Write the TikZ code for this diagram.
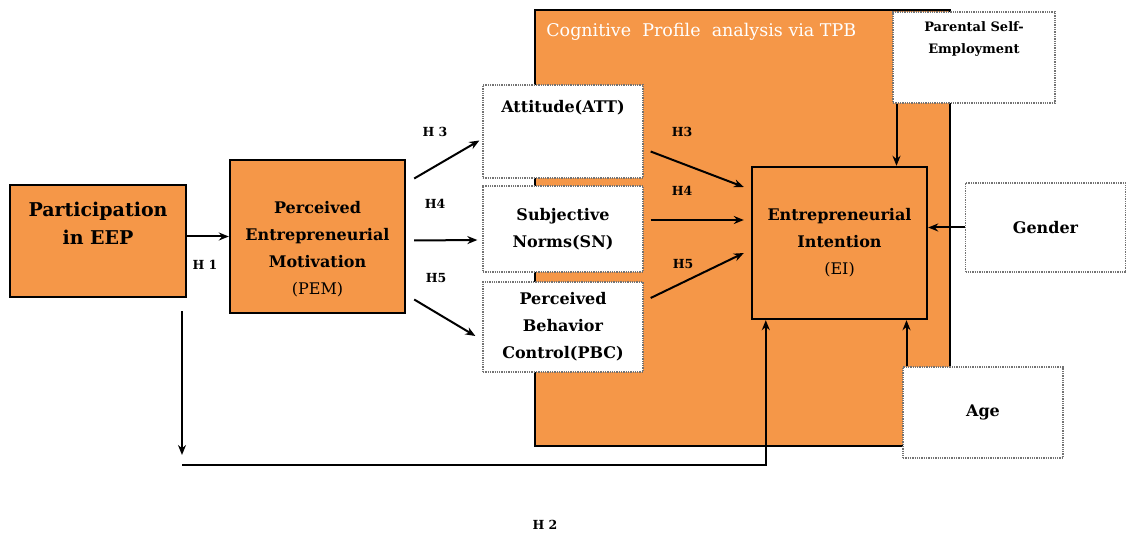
\documentclass[tikz,border=0pt]{standalone}
\usepackage{fontspec}
\setmainfont{DejaVu Serif}
\usetikzlibrary{arrows.meta}
\definecolor{tpborange}{RGB}{245,151,72}

\begin{document}
\begin{tikzpicture}[x=1pt,y=-1pt,
		solidbox/.style={draw=black,line width=2.4pt,fill=tpborange,align=center,inner sep=0pt},
		dotbox/.style={draw=black!55,densely dotted,line width=1.3pt,fill=white,align=center,inner sep=0pt},
		boxtext/.style={align=center,font=\bfseries\fontsize{16}{27}\selectfont},
		link/.style={line width=2pt,-{Stealth[length=10pt,width=8pt]}},
		hlabel/.style={font=\bfseries\fontsize{12.5}{14}\selectfont}]
		\useasboundingbox (0,0) rectangle (1126,534);
		% TPB frame
		\node[solidbox,minimum width=415pt,minimum height=436pt,
			label={[anchor=west,xshift=9pt,yshift=-23pt,text=white,font=\fontsize{17.5}{20}\selectfont]north west:Cognitive~~Profile~~analysis via TPB}] (tpb) at (742.5,228) {};
		% boxes
		\node[solidbox,minimum width=176pt,minimum height=112pt,
			label={[anchor=center,yshift=-39pt,align=center,font=\bfseries\fontsize{19}{28}\selectfont]north:Participation\\in EEP}] (eep) at (98,241) {};
		\node[solidbox,minimum width=175pt,minimum height=153pt,
			label={[boxtext,anchor=center,yshift=-13pt]center:Perceived\\Entrepreneurial\\Motivation\\{\mdseries(PEM)}}] (pem) at (317.5,236.5) {};
		\node[dotbox,minimum width=160pt,minimum height=93pt,
			label={[boxtext,anchor=center,yshift=-23pt]north:Attitude(ATT)}] (att) at (563,131.5) {};
		\node[dotbox,boxtext,minimum width=160pt,minimum height=86pt] (sn) at (563,229) {Subjective\\Norms(SN)};
		\node[dotbox,boxtext,minimum width=160pt,minimum height=90pt] (pbc) at (563,327) {Perceived\\Behavior\\Control(PBC)};
		\node[solidbox,boxtext,minimum width=175pt,minimum height=152pt] (ei) at (839.5,243) {Entrepreneurial\\Intention\\{\mdseries(EI)}};
		\node[dotbox,minimum width=162pt,minimum height=91pt,
			label={[anchor=center,yshift=-28pt,align=center,font=\bfseries\fontsize{13}{22}\selectfont]north:Parental Self-\\Employment}] (parent) at (974,57.5) {};
		\node[dotbox,boxtext,minimum width=160pt,minimum height=89pt] (gender) at (1045.5,227.5) {Gender};
		\node[dotbox,boxtext,minimum width=160pt,minimum height=91pt] (age) at (983,412.5) {Age};
		% hypothesis labels
		\node[hlabel] (h1) at (205,265) {H 1};
		\node[hlabel] (h2) at (545,525) {H 2};
		\node[hlabel] (h3a) at (435,132) {H 3};
		\node[hlabel] (h4a) at (435,204) {H4};
		\node[hlabel] (h5a) at (436,278) {H5};
		\node[hlabel] (h3b) at (682,132) {H3};
		\node[hlabel] (h4b) at (682,191) {H4};
		\node[hlabel] (h5b) at (683,264) {H5};
		% arrows
		\draw[link] (eep.east |- pem) -- (pem.west);
		\draw[link] ([xshift=8pt,yshift=58pt]pem.east) -- ([xshift=-3pt,yshift=-9pt]att.west);
		\draw[link] ([xshift=8pt,yshift=-4pt]pem.east) -- ([xshift=-5pt,yshift=-11pt]sn.west);
		\draw[link] ([xshift=8pt,yshift=-63pt]pem.east) -- ([xshift=-7pt,yshift=-9pt]pbc.west);
		\draw[link] ([xshift=7pt,yshift=-20pt]att.east) -- ([xshift=-7pt,yshift=56pt]ei.west);
		\draw[link] ([xshift=7pt,yshift=9pt]sn.east) -- ([xshift=-7pt,yshift=23pt]ei.west);
		\draw[link] ([xshift=7pt,yshift=29pt]pbc.east) -- ([xshift=-7pt,yshift=-10pt]ei.west);
		\draw[link] (gender.west) -- (ei.east |- gender.west);
		\draw[link] ([xshift=57pt]ei.north |- parent.south) -- ([xshift=57pt]ei.north);
		\draw[link] ([xshift=67pt]ei.south |- age.north) -- ([xshift=67pt]ei.south);
		% H2 path
		\coordinate (h2end) at (182,455);
		\coordinate (h2turn) at (182,465);
		\draw[link] ([yshift=-13pt]eep.south east -| h2end) -- (h2end);
		\draw[link] (h2turn) -| ([xshift=15pt]ei.south west);
	\end{tikzpicture}
\end{document}
